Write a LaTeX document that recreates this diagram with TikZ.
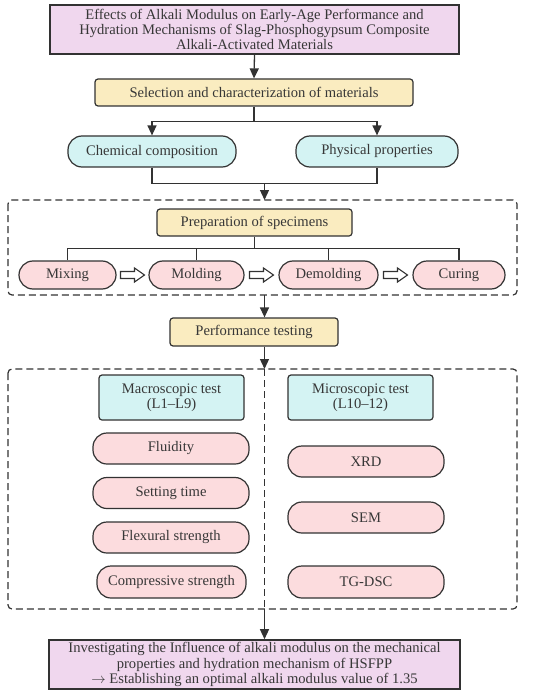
\documentclass[tikz,border=0pt]{standalone}
\usepackage{fontspec}
\setmainfont{Liberation Serif}
\usetikzlibrary{arrows.meta,calc}
\definecolor{tpink}{RGB}{240,215,238}
\definecolor{tyel}{RGB}{250,236,192}
\definecolor{tcyan}{RGB}{212,243,243}
\definecolor{tbox}{RGB}{252,220,222}
\definecolor{tline}{RGB}{50,50,50}
\definecolor{ttext}{RGB}{55,55,55}
\begin{document}
\begin{tikzpicture}[x=1pt,y=-1pt,
  every node/.style={font=\fontsize{14.6}{15.2}\selectfont, text=ttext, inner sep=0pt, align=center},
  bigbox/.style={draw=tline, line width=1.6pt, fill=tpink},
  yelbox/.style={draw=tline, line width=1.2pt, fill=tyel, rounded corners=3pt},
  cyanpill/.style={draw=tline, line width=1.2pt, fill=tcyan, rounded corners=14pt},
  cyanbox/.style={draw=tline, line width=1.2pt, fill=tcyan, rounded corners=3pt},
  pinkpill/.style={draw=tline, line width=1.2pt, fill=tbox, rounded corners=14pt},
  conn/.style={draw=tline, line width=1.3pt},
  arr/.style={conn, -{Triangle[length=10pt,width=9pt]}},
  dashbox/.style={draw=tline, line width=1.2pt, dash pattern=on 7pt off 4pt, rounded corners=4pt},
  hollow/.style={draw=tline, line width=1.1pt, fill=white}
]
\useasboundingbox (0,0) rectangle (550,695);

% Title
\node[bigbox, minimum width=409pt, minimum height=49pt] (title) at (254.5,29.5)
  {Effects of Alkali Modulus on Early-Age Performance and\\Hydration Mechanisms of Slag-Phosphogypsum Composite\\Alkali-Activated Materials};

\node[yelbox, minimum width=318pt, minimum height=27pt] (sel) at (254,92.5) {Selection and characterization of materials};

\node[cyanpill, minimum width=168pt, minimum height=31pt] (chem) at (152,151.5) {Chemical composition};
\node[cyanpill, minimum width=162pt, minimum height=31pt] (phys) at (377,151.5) {Physical properties};

% dashed box 1
\draw[dashbox] (8,200) rectangle (517,295);
\coordinate (b1top) at (264.5,200);
\coordinate (b1bot) at (264.5,295);

\node[yelbox, minimum width=195pt, minimum height=27pt] (prep) at (254.5,222.5) {Preparation of specimens};

\node[pinkpill, minimum width=97pt, minimum height=28pt] (mix) at (67.5,275) {Mixing};
\node[pinkpill, minimum width=95pt, minimum height=28pt] (mold) at (196.5,275) {Molding};
\node[pinkpill, minimum width=99pt, minimum height=28pt] (demold) at (328.5,275) {Demolding};
\node[pinkpill, minimum width=92pt, minimum height=28pt] (cur) at (459,275) {Curing};

% hollow arrows
\foreach \a/\b in {mix/mold, mold/demold, demold/cur}{
  \coordinate (h) at ($(\a.east)!0.5!(\b.west)$);
  \draw[hollow] ($(h)+(-12,-3.5)$) -- ++(14,0) -- ++(0,-3.5) -- ++(10,7) -- ++(-10,7) -- ++(0,-3.5) -- ++(-14,0) -- cycle;
}

\node[yelbox, minimum width=168pt, minimum height=28pt] (perf) at (254,332) {Performance testing};

% dashed box 2
\draw[dashbox] (8,369) rectangle (517,609);
\coordinate (b2top) at (264.5,369);
\coordinate (b2bot) at (264.5,609);

\node[cyanbox, minimum width=145pt, minimum height=45pt] (macro) at (171.5,397.5) {Macroscopic test\\(L1–L9)};
\node[cyanbox, minimum width=145pt, minimum height=45pt] (micro) at (360.5,397.5) {Microscopic test\\(L10–12)};

\node[pinkpill, minimum width=156pt, minimum height=31pt] (flu) at (171,448.5) {Fluidity};
\node[pinkpill, minimum width=156pt, minimum height=31pt] (set) at (171,493) {Setting time};
\node[pinkpill, minimum width=156pt, minimum height=31pt] (flex) at (171,537.5) {Flexural strength};
\node[pinkpill, minimum width=149pt, minimum height=32pt] (comp) at (171.5,582) {Compressive strength};

\node[pinkpill, minimum width=156pt, minimum height=31pt] (xrd) at (366,461.5) {XRD};
\node[pinkpill, minimum width=156pt, minimum height=31pt] (sem) at (366,517.5) {SEM};
\node[pinkpill, minimum width=156pt, minimum height=32pt] (tg) at (366,582) {TG-DSC};

\node[bigbox, minimum width=411pt, minimum height=49pt] (final) at (254.5,664.5)
  {Investigating the Influence of alkali modulus on the mechanical\\properties and hydration mechanism of HSFPP\\$\rightarrow$ Establishing an optimal alkali modulus value of 1.35};

% connectors
\draw[arr] (title.south) -- (sel.north);
\coordinate (s1) at ($(sel.south)+(0,15)$);
\draw[arr] (sel.south) -- (s1) -| (chem.north);
\draw[arr] (s1) -| (phys.north);
\coordinate (j1) at ($(chem.south)+(0,16)$);
\draw[conn] (chem.south) -- (j1) -| (phys.south);
\draw[arr] (j1 -| b1top) -- (b1top);

\coordinate (s2) at ($(prep.south)+(0,12)$);
\draw[conn] (prep.south) -- (s2);
\draw[conn] (s2) -| (mix.north);
\draw[conn] (s2) -| (cur.north);
\draw[conn] (mold.north) |- (s2);
\draw[conn] (demold.north) |- (s2);

\draw[arr] (b1bot) -- (b1bot |- perf.north);
\draw[arr] (b1bot |- perf.south) -- (b2top);
\draw[draw=tline, line width=1.2pt, dash pattern=on 7pt off 4pt] (b2top) -- (b2bot);
\draw[arr] (b2bot) -- (b2bot |- final.north);
\end{tikzpicture}
\end{document}
